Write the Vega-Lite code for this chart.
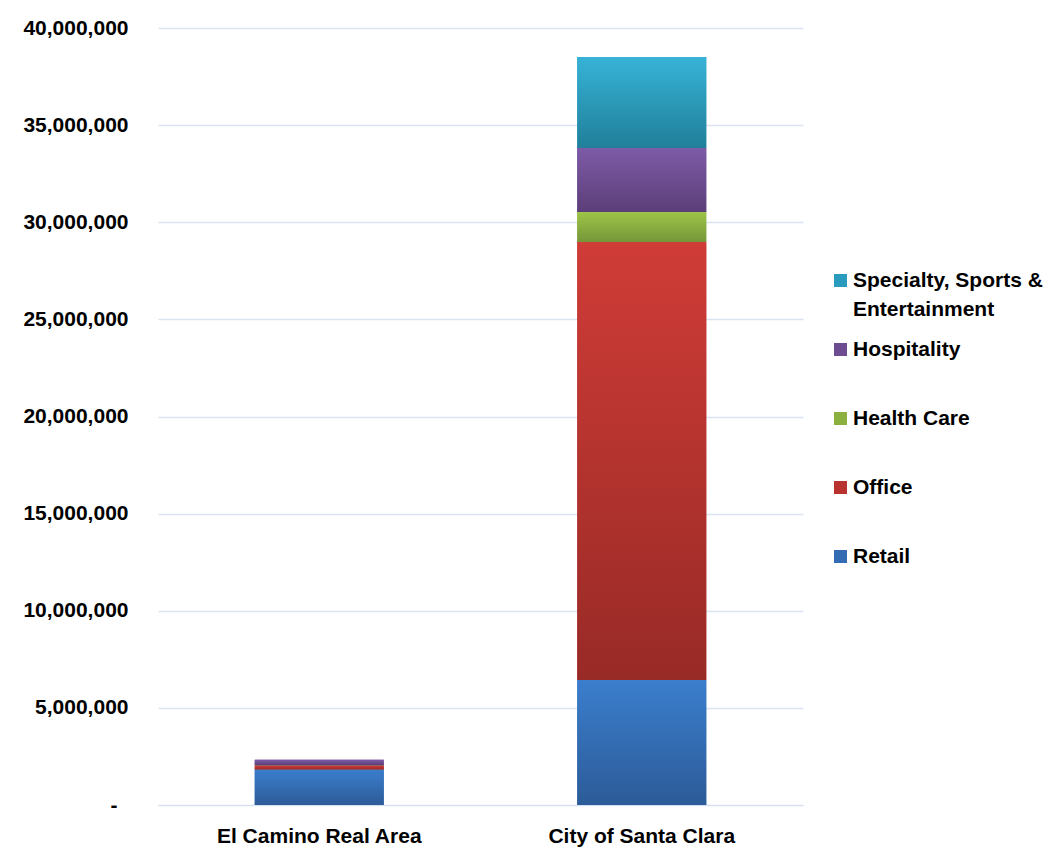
{
  "$schema": "https://vega.github.io/schema/vega-lite/v6.json",
  "autosize": {"type": "none"},
  "padding": {"left": 158, "top": 28, "right": 250, "bottom": 56},
  "width": 645,
  "height": 777,
  "background": "white",
  "config": {
    "view": {"stroke": null},
    "font": "Liberation Sans",
    "style": {"guide-label": {"lineHeight": 29}}
  },
  "data": {
    "values": [
      {"area": "El Camino Real Area", "category": "Retail", "order": 1, "value": 1830000},
      {"area": "El Camino Real Area", "category": "Office", "order": 2, "value": 200000},
      {"area": "El Camino Real Area", "category": "Health Care", "order": 3, "value": 20000},
      {"area": "El Camino Real Area", "category": "Hospitality", "order": 4, "value": 280000},
      {"area": "El Camino Real Area", "category": "Specialty, Sports & Entertainment", "order": 5, "value": 0},
      {"area": "City of Santa Clara", "category": "Retail", "order": 1, "value": 6430000},
      {"area": "City of Santa Clara", "category": "Office", "order": 2, "value": 22550000},
      {"area": "City of Santa Clara", "category": "Health Care", "order": 3, "value": 1550000},
      {"area": "City of Santa Clara", "category": "Hospitality", "order": 4, "value": 3290000},
      {"area": "City of Santa Clara", "category": "Specialty, Sports & Entertainment", "order": 5, "value": 4690000}
    ]
  },
  "transform": [
    {"stack": "value", "groupby": ["area"], "sort": [{"field": "order"}], "as": ["y0", "y1"]}
  ],
  "encoding": {
    "x": {
      "field": "area", "type": "nominal", "sort": ["El Camino Real Area", "City of Santa Clara"],
      "scale": {"paddingInner": 0.6, "paddingOuter": 0.3},
      "axis": {
        "title": null, "labelAngle": 0, "labelFontSize": 21, "labelFontWeight": "bold",
        "labelColor": "black", "ticks": false, "domainColor": "#d5e1f0", "labelPadding": 20,
        "labelLimit": 400
      }
    },
    "y": {
      "field": "y0", "type": "quantitative",
      "scale": {"domain": [0, 40000000], "nice": false},
      "axis": {
        "title": null, "values": [0, 5000000, 10000000, 15000000, 20000000, 25000000, 30000000, 35000000, 40000000],
        "labelExpr": "datum.value === 0 ? '-' : format(datum.value, ',')",
        "labelFontSize": 21, "labelFontWeight": "bold", "labelColor": "black",
        "ticks": false, "domain": false,
        "labelPadding": {"condition": {"test": "datum.value === 0", "value": 41}, "value": 30},
        "gridColor": "#d9e4f2", "gridWidth": 1.5
      }
    },
    "y2": {"field": "y1"}
  },
  "layer": [
    {
      "mark": {"type": "bar"},
      "encoding": {
        "color": {
          "field": "category", "type": "nominal",
          "scale": {
            "domain": ["Specialty, Sports & Entertainment", "Hospitality", "Health Care", "Office", "Retail"],
            "range": ["#2b9bbd", "#6d4c92", "#8bb040", "#b8332f", "#336cb3"]
          },
          "legend": {
            "title": null, "orient": "none", "legendX": 672, "legendY": 242,
            "symbolType": "square", "symbolSize": 170, "symbolStrokeWidth": 0,
            "labelFontSize": 21, "labelFontWeight": "bold", "labelColor": "black",
            "labelOffset": 2, "rowPadding": 18, "labelLimit": 300,
            "labelExpr": "datum.label == 'Specialty, Sports & Entertainment' ? ['Specialty, Sports &', 'Entertainment'] : [datum.label, '']"
          }
        }
      }
    },
    {
      "transform": [{"filter": "datum.category == 'Retail'"}],
      "mark": {"type": "bar", "color": {"gradient": "linear", "x1": 0, "y1": 0, "x2": 0, "y2": 1, "stops": [{"offset": 0, "color": "#3b7ecd"}, {"offset": 1, "color": "#2c5b98"}]}}
    },
    {
      "transform": [{"filter": "datum.category == 'Office'"}],
      "mark": {"type": "bar", "color": {"gradient": "linear", "x1": 0, "y1": 0, "x2": 0, "y2": 1, "stops": [{"offset": 0, "color": "#d03c37"}, {"offset": 1, "color": "#982a26"}]}}
    },
    {
      "transform": [{"filter": "datum.category == 'Health Care'"}],
      "mark": {"type": "bar", "color": {"gradient": "linear", "x1": 0, "y1": 0, "x2": 0, "y2": 1, "stops": [{"offset": 0, "color": "#9ec548"}, {"offset": 1, "color": "#759639"}]}}
    },
    {
      "transform": [{"filter": "datum.category == 'Hospitality'"}],
      "mark": {"type": "bar", "color": {"gradient": "linear", "x1": 0, "y1": 0, "x2": 0, "y2": 1, "stops": [{"offset": 0, "color": "#7d5ba7"}, {"offset": 1, "color": "#5c3e79"}]}}
    },
    {
      "transform": [{"filter": "datum.category == 'Specialty, Sports & Entertainment'"}],
      "mark": {"type": "bar", "color": {"gradient": "linear", "x1": 0, "y1": 0, "x2": 0, "y2": 1, "stops": [{"offset": 0, "color": "#36b3d7"}, {"offset": 1, "color": "#207f99"}]}}
    }
  ]
}
